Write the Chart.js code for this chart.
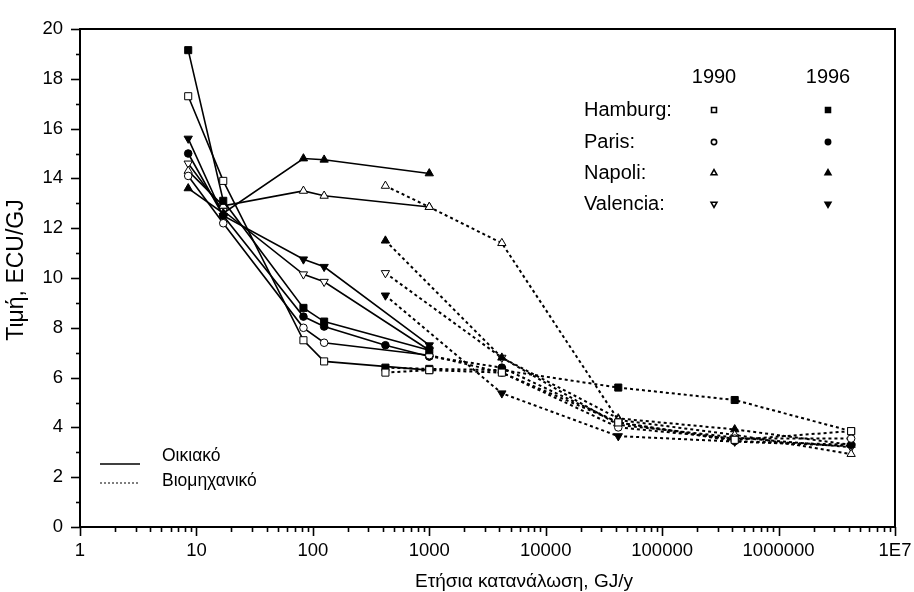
<!DOCTYPE html>
<html><head><meta charset="utf-8">
<script src="https://cdn.jsdelivr.net/npm/chart.js@4/dist/chart.umd.min.js"></script>
<style>html,body{margin:0;padding:0;background:#fff}</style>
</head><body>
<canvas id="c" width="914" height="592"></canvas>
<script>
// ---- data ----
const resX = [8.5, 17, 83, 125, 420, 1000];
const indX = [420, 1000, 4200, 42000, 420000, 4200000];
const xTickValues = [1, 10, 100, 1000, 10000, 100000, 1000000, 10000000];
const xTickLabels = ['1', '10', '100', '1000', '10000', '100000', '1000000', '1E7'];
const yTickValues = [0, 2, 4, 6, 8, 10, 12, 14, 16, 18, 20];
const cities = ['Hamburg', 'Paris', 'Napoli', 'Valencia'];
const years = ['1990', '1996'];

const resHamburg1990 = [17.3, 13.9, 7.5, 6.65, null, 6.3];
const resHamburg1996 = [19.15, 13.1, 8.8, 8.25, null, 7.1];
const resParis1990 = [14.1, 12.2, 8.0, 7.4, null, 6.9];
const resParis1996 = [15.0, 12.5, 8.45, 8.05, 7.3, 6.85];
const resNapoli1990 = [14.3, 12.9, 13.5, 13.3, null, 12.85];
const resNapoli1996 = [13.6, 12.6, 14.8, 14.75, null, 14.2];
const resValencia1990 = [14.6, 12.7, 10.15, 9.85, null, 7.1];
const resValencia1996 = [15.6, 12.5, 10.75, 10.45, null, 7.3];

const indHamburg1990 = [6.2, 6.3, 6.2, 4.2, 3.5, 3.85];
const indHamburg1996 = [6.4, 6.35, 6.3, 5.6, 5.1, 3.85];
const indParis1990 = [null, 6.9, 6.2, 4.0, 3.55, 3.55];
const indParis1996 = [null, 6.85, 6.4, 4.2, 3.45, 3.3];
const indNapoli1990 = [13.7, 12.85, 11.4, 4.3, 3.7, 2.93];
const indNapoli1996 = [11.5, null, 6.8, 4.36, 3.92, 3.3];
const indValencia1990 = [10.2, null, 6.8, 4.1, 3.6, 3.2];
const indValencia1996 = [9.3, null, 5.37, 3.65, 3.43, 3.25];

// ---- styles ----
const FONT = "'Liberation Sans', Arial, sans-serif";
const markerStyle = {
  Hamburg: {pointStyle: 'rect', rotation: 0, r: 5},
  Paris: {pointStyle: 'circle', rotation: 0, r: 3.8},
  Napoli: {pointStyle: 'triangle', rotation: 0, r: 4.8},
  Valencia: {pointStyle: 'triangle', rotation: 180, r: 4.8}
};
function pts(xs, ys) {
  const out = [];
  xs.forEach((x, i) => { if (ys[i] !== null && ys[i] !== undefined) out.push({x: x, y: ys[i]}); });
  return out;
}
function makeDs(city, year, xs, ys, dotted) {
  const m = markerStyle[city];
  const filled = year === '1996';
  return {
    label: city + ' ' + year + (dotted ? ' ind' : ' res'),
    data: pts(xs, ys),
    borderColor: '#000',
    borderWidth: dotted ? 2 : 1.6,
    borderDash: dotted ? [3, 3] : [],
    pointStyle: m.pointStyle,
    rotation: m.rotation,
    pointRadius: m.r,
    pointBorderWidth: 1,
    pointBorderColor: '#000',
    pointBackgroundColor: filled ? '#000' : '#fff',
    tension: 0,
    fill: false
  };
}
const datasets = [
  makeDs('Hamburg', '1990', resX, resHamburg1990, false),
  makeDs('Hamburg', '1996', resX, resHamburg1996, false),
  makeDs('Paris', '1990', resX, resParis1990, false),
  makeDs('Paris', '1996', resX, resParis1996, false),
  makeDs('Napoli', '1990', resX, resNapoli1990, false),
  makeDs('Napoli', '1996', resX, resNapoli1996, false),
  makeDs('Valencia', '1990', resX, resValencia1990, false),
  makeDs('Valencia', '1996', resX, resValencia1996, false),
  makeDs('Hamburg', '1990', indX, indHamburg1990, true),
  makeDs('Hamburg', '1996', indX, indHamburg1996, true),
  makeDs('Paris', '1990', indX, indParis1990, true),
  makeDs('Paris', '1996', indX, indParis1996, true),
  makeDs('Napoli', '1990', indX, indNapoli1990, true),
  makeDs('Napoli', '1996', indX, indNapoli1996, true),
  makeDs('Valencia', '1990', indX, indValencia1990, true),
  makeDs('Valencia', '1996', indX, indValencia1996, true)
];

const decorPlugin = {
  id: 'decor',
  afterDraw(chart) {
    const ctx = chart.ctx;
    const xs = chart.scales.x, ys = chart.scales.y;
    const ca = chart.chartArea;
    ctx.save();
    // frame
    ctx.strokeStyle = '#000';
    ctx.lineWidth = 2;
    ctx.strokeRect(ca.left, ca.top, ca.right - ca.left, ca.bottom - ca.top);
    // y ticks
    ctx.lineWidth = 1.6;
    for (let v = 0; v <= 20; v++) {
      const y = Math.round(ys.getPixelForValue(v)) + 0.5;
      const len = (v % 2 === 0) ? 9 : 4;
      ctx.beginPath(); ctx.moveTo(ca.left - len, y); ctx.lineTo(ca.left, y); ctx.stroke();
    }
    // x ticks
    for (let d = 1; d <= 1e7; d *= 10) {
      for (let k = 1; k <= 9; k++) {
        const v = d * k;
        if (v > 1e7) break;
        const x = Math.round(xs.getPixelForValue(v)) + 0.5;
        const len = (k === 1) ? 9 : 5;
        ctx.beginPath(); ctx.moveTo(x, ca.bottom); ctx.lineTo(x, ca.bottom + len); ctx.stroke();
      }
    }
    // axis titles
    ctx.fillStyle = '#000';
    ctx.font = '19px ' + FONT;
    ctx.textAlign = 'center'; ctx.textBaseline = 'alphabetic';
    ctx.fillText('Ετήσια κατανάλωση, GJ/y', 524, 587);
    ctx.save();
    ctx.font = '23px ' + FONT;
    ctx.translate(23, 270); ctx.rotate(-Math.PI / 2);
    ctx.fillText('Τιμή, ECU/GJ', 0, 0);
    ctx.restore();
    // city/year legend
    ctx.textBaseline = 'middle';
    ctx.font = '20px ' + FONT;
    ctx.textAlign = 'center';
    ctx.fillText(years[0], 714, 77);
    ctx.fillText(years[1], 828, 77);
    const rowsY = [110, 142, 173, 204];
    cities.forEach((c, i) => {
      ctx.textAlign = 'left';
      ctx.fillStyle = '#000';
      ctx.fillText(c + ':', 584, rowsY[i]);
      const m = markerStyle[c];
      [714, 828].forEach((lx, j) => {
        ctx.fillStyle = j === 0 ? '#fff' : '#000';
        ctx.strokeStyle = '#000';
        Chart.helpers.drawPoint(ctx, {pointStyle: m.pointStyle, rotation: m.rotation, radius: m.r * 0.7, borderWidth: 1}, lx, rowsY[i]);
      });
    });
    // line-type legend
    ctx.fillStyle = '#000';
    ctx.strokeStyle = '#000';
    ctx.font = '17.5px ' + FONT;
    ctx.textAlign = 'left';
    ctx.lineWidth = 1.6;
    ctx.beginPath(); ctx.moveTo(100, 464); ctx.lineTo(140, 464); ctx.stroke();
    ctx.fillText('Οικιακό', 162, 456);
    ctx.setLineDash([2, 2]);
    ctx.lineWidth = 1.2;
    ctx.beginPath(); ctx.moveTo(100, 483); ctx.lineTo(140, 483); ctx.stroke();
    ctx.setLineDash([]);
    ctx.fillText('Βιομηχανικό', 162, 481);
    ctx.restore();
  }
};

new Chart(document.getElementById('c'), {
  type: 'line',
  data: {datasets: datasets},
  options: {
    responsive: false,
    animation: false,
    devicePixelRatio: 1,
    layout: {padding: {left: 0, right: 19, top: 29, bottom: 0}},
    plugins: {legend: {display: false}, tooltip: {enabled: false}},
    scales: {
      x: {
        type: 'logarithmic', min: 1, max: 1e7,
        afterBuildTicks: s => { s.ticks = xTickValues.map(v => ({value: v})); },
        afterFit: s => { s.height = 65; s.paddingLeft = 0; s.paddingRight = 0; },
        ticks: {
          callback: (v) => { const i = xTickValues.indexOf(v); return i >= 0 ? xTickLabels[i] : ''; },
          font: {family: FONT, size: 18.5}, color: '#000', maxRotation: 0, autoSkip: false, padding: 13
        },
        grid: {display: false, drawTicks: false},
        border: {display: false}
      },
      y: {
        type: 'linear', min: 0, max: 20,
        afterBuildTicks: s => { s.ticks = yTickValues.map(v => ({value: v})); },
        afterFit: s => { s.width = 80; s.paddingTop = 0; s.paddingBottom = 0; },
        ticks: {font: {family: FONT, size: 18.5}, color: '#000', padding: 17},
        grid: {display: false, drawTicks: false},
        border: {display: false}
      }
    }
  },
  plugins: [decorPlugin]
});
</script>
</body></html>
